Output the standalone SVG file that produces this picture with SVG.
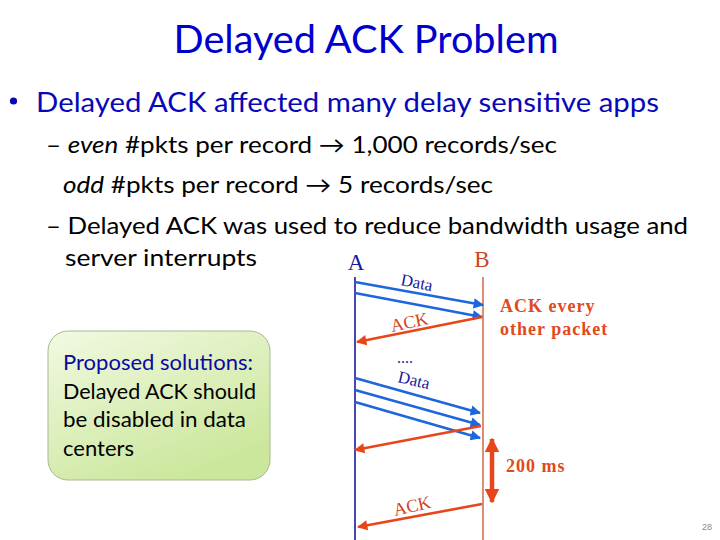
<svg xmlns="http://www.w3.org/2000/svg" width="720" height="540" viewBox="0 0 720 540">
<style>
.cal{font-family:Lato,"Open Sans","Liberation Sans",sans-serif}
.title{font-size:38px;fill:#0000cc}
.bul{font-size:26px;fill:#0808b8}
.sub{font-size:23px;fill:#000}
.ser{font-family:"Liberation Serif","DejaVu Serif",serif}
.blue-ln{stroke:#1e66dc;stroke-width:2.6;fill:none;marker-end:url(#hb)}
.red-ln{stroke:#e8461a;stroke-width:2.6;fill:none;marker-end:url(#hr)}
.note{font-weight:bold;font-size:18px;letter-spacing:1px;fill:#e04a1c}
.box-t{font-size:20.5px;fill:#000}
</style>
<defs>
<marker id="hb" viewBox="0 0 10 10" refX="9" refY="5" markerWidth="4.2" markerHeight="4" orient="auto" markerUnits="strokeWidth"><path d="M0,0 L10,5 L0,10 z" fill="#1e66dc"/></marker>
<marker id="hr" viewBox="0 0 10 10" refX="9" refY="5" markerWidth="4.2" markerHeight="4" orient="auto" markerUnits="strokeWidth"><path d="M0,0 L10,5 L0,10 z" fill="#e8461a"/></marker>
<marker id="hr2" viewBox="0 0 10 10" refX="9" refY="5" markerWidth="3.2" markerHeight="3.2" orient="auto-start-reverse" markerUnits="strokeWidth"><path d="M0,0 L10,5 L0,10 z" fill="#e8461a"/></marker>
<linearGradient id="gg" x1="0" y1="0" x2="0.6" y2="1">
<stop offset="0" stop-color="#f2f9e2"/>
<stop offset="1" stop-color="#cbe79c"/>
</linearGradient>
</defs>

<g id="title"><text class="cal title" x="366" y="53" text-anchor="middle" textLength="385" lengthAdjust="spacingAndGlyphs">Delayed ACK Problem</text></g>

<g id="bullets">
<circle cx="13.5" cy="101" r="3.6" fill="#0808b8"/>
<text class="cal bul" x="36" y="112" textLength="623" lengthAdjust="spacingAndGlyphs">Delayed ACK affected many delay sensitive apps</text>
<text class="cal sub" x="46" y="153" textLength="511" lengthAdjust="spacingAndGlyphs">– <tspan font-style="italic">even</tspan> #pkts per record → 1,000 records/sec</text>
<text class="cal sub" x="63" y="193" textLength="430" lengthAdjust="spacingAndGlyphs"><tspan font-style="italic">odd</tspan> #pkts per record → 5 records/sec</text>
<text class="cal sub" x="46" y="234" textLength="642" lengthAdjust="spacingAndGlyphs">– Delayed ACK was used to reduce bandwidth usage and</text>
<text class="cal sub" x="65" y="266" textLength="192" lengthAdjust="spacingAndGlyphs">server interrupts</text>
</g>

<g id="proposal">
<rect x="48" y="331" width="222" height="149" rx="20" ry="20" fill="url(#gg)" stroke="#a8b898" stroke-width="1"/>
<text class="cal box-t" x="63" y="370" style="fill:#0a0aa0" textLength="190" lengthAdjust="spacingAndGlyphs">Proposed solutions:</text>
<text class="cal box-t" x="63" y="399" textLength="193" lengthAdjust="spacingAndGlyphs">Delayed ACK should</text>
<text class="cal box-t" x="63" y="427" textLength="183" lengthAdjust="spacingAndGlyphs">be disabled in data</text>
<text class="cal box-t" x="63" y="456" textLength="71" lengthAdjust="spacingAndGlyphs">centers</text>
</g>

<g id="hostA">
<text class="ser" x="356" y="270" font-size="23" fill="#1a1a9a" text-anchor="middle">A</text>
<line x1="355" y1="277" x2="355" y2="540" stroke="#1a1a9a" stroke-width="1.6"/>
</g>
<g id="hostB">
<text class="ser" x="482" y="267" font-size="23" fill="#d0441c" text-anchor="middle">B</text>
<line x1="483" y1="277" x2="483" y2="540" stroke="#c8502a" stroke-width="1.3"/>
</g>

<g id="connectors">
<line class="blue-ln" x1="355" y1="282" x2="483" y2="305"/>
<line class="blue-ln" x1="355" y1="293" x2="482" y2="317"/>
<line class="red-ln" x1="482" y1="317" x2="357" y2="342"/>
<line class="blue-ln" x1="355" y1="378" x2="480" y2="413"/>
<line class="blue-ln" x1="355" y1="390" x2="480" y2="425"/>
<line class="blue-ln" x1="355" y1="402" x2="480" y2="438"/>
<line class="red-ln" x1="481" y1="426" x2="355" y2="450"/>
<line class="red-ln" x1="482" y1="504" x2="358" y2="527"/>
<line x1="492" y1="439" x2="492" y2="502" stroke="#e8461a" stroke-width="4.5" marker-start="url(#hr2)" marker-end="url(#hr2)"/>
</g>

<g id="labels">
<text class="ser" font-size="17" fill="#1a1a9a" transform="translate(400,285) rotate(11)">Data</text>
<text class="ser" font-size="18" fill="#d0441c" transform="translate(392,332) rotate(-12)">ACK</text>
<text class="ser" font-size="16" fill="#1a1a9a" x="397" y="363">....</text>
<text class="ser" font-size="17" fill="#1a1a9a" transform="translate(397,382) rotate(13)">Data</text>
<text class="ser" font-size="18" fill="#d0441c" transform="translate(395,516) rotate(-13)">ACK</text>
<text class="ser note" x="500" y="312">ACK every</text>
<text class="ser note" x="500" y="335">other packet</text>
<text class="ser note" x="506" y="472">200 ms</text>
</g>

<g id="page"><text x="702" y="530" font-family="Liberation Sans,sans-serif" font-size="9" fill="#888">28</text></g>
</svg>
